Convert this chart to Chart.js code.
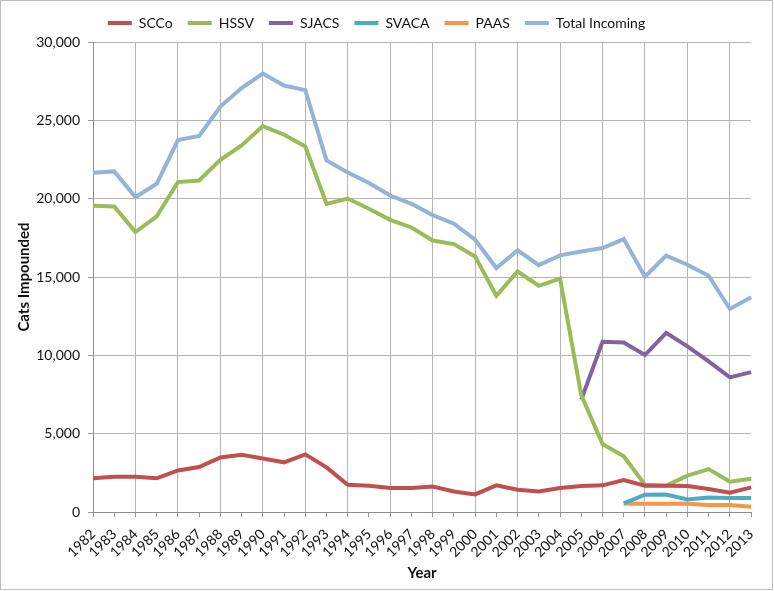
<!DOCTYPE html>
<html lang="en">
<head>
    <meta charset="UTF-8">
    <title>Cats Impounded</title>
    <style>
        body {
            margin: 0;
            background-color: white;
        }
        .frame {
            position: absolute;
            left: 0;
            top: 0;
            width: 771px;
            height: 588px;
            border: 1px solid #bdbdbd;
        }
    </style>
</head>
<body>

<div class="frame">
    <canvas id="myChart" width="771" height="588"></canvas>
</div>

<script src="https://cdn.jsdelivr.net/npm/chart.js"></script>

<script>
    const years = ['1982','1983','1984','1985','1986','1987','1988','1989','1990','1991','1992','1993','1994','1995','1996',
        '1997','1998','1999','2000','2001','2002','2003','2004','2005','2006','2007','2008','2009','2010','2011','2012','2013'];

    const scco = [2150, 2250, 2250, 2150, 2650, 2870, 3480, 3660, 3420, 3170, 3680, 2850, 1740, 1680, 1530,
        1530, 1630, 1310, 1120, 1700, 1420, 1310, 1530, 1660, 1700, 2040, 1680, 1680, 1660, 1470, 1230, 1570];
    const hssv = [19550, 19500, 17870, 18870, 21060, 21160, 22480, 23400, 24630, 24080, 23330, 19670, 20010, 19360, 18650,
        18160, 17330, 17100, 16310, 13800, 15350, 14440, 14890, 7450, 4340, 3550, 1740, 1680, 2320, 2740, 1930, 2120];
    const sjacs = [null, null, null, null, null, null, null, null, null, null, null, null, null, null, null,
        null, null, null, null, null, null, null, null, 7170, 10870, 10820, 10020, 11440, 10570, 9610, 8590, 8930];
    const svaca = [null, null, null, null, null, null, null, null, null, null, null, null, null, null, null,
        null, null, null, null, null, null, null, null, null, null, 550, 1100, 1120, 800, 930, 900, 890];
    const paas = [null, null, null, null, null, null, null, null, null, null, null, null, null, null, null,
        null, null, null, null, null, null, null, null, null, null, 550, 530, 530, 530, 450, 450, 340];
    const totalIncoming = [21650, 21740, 20100, 20950, 23740, 24010, 25880, 27060, 27990, 27220, 26930, 22440, 21670, 21000, 20200,
        19670, 18950, 18400, 17380, 15570, 16700, 15760, 16380, 16630, 16850, 17420, 15020, 16360, 15780, 15080, 12960, 13700];

    const yTicks = [0, 5000, 10000, 15000, 20000, 25000, 30000];

    const gridGray = '#b4b4b4';
    Chart.defaults.font.family = 'Lato, "Open Sans", sans-serif';
    Chart.defaults.color = '#222';

    function makeSet(label, data, color) {
        return { label: label, data: data, borderColor: color, backgroundColor: color, borderWidth: 4,
                 pointRadius: 0, tension: 0, spanGaps: false };
    }

    // fixed legend height so the plot top lands where the picture has it
    const legendFit = {
        id: 'legendFit',
        beforeInit(chart) {
            const fit = chart.legend.fit;
            chart.legend.fit = function () {
                fit.bind(chart.legend)();
                this.height = 41;
            };
        }
    };

    new Chart(document.getElementById('myChart'), {
        type: 'line',
        data: {
            labels: years,
            datasets: [
                makeSet('SCCo', scco, '#c0504d'),
                makeSet('HSSV', hssv, '#9bbb59'),
                makeSet('SJACS', sjacs, '#8064a2'),
                makeSet('SVACA', svaca, '#4bacc6'),
                makeSet('PAAS', paas, '#f79646'),
                makeSet('Total Incoming', totalIncoming, '#95b3d7')
            ]
        },
        plugins: [legendFit],
        options: {
            responsive: false,
            animation: false,
            layout: { padding: { left: 0, right: 20, top: 0, bottom: 0 } },
            plugins: {
                legend: {
                    position: 'top',
                    labels: { usePointStyle: true, pointStyle: 'line', pointStyleWidth: 24, padding: 15,
                              font: { size: 14 }, color: '#111' }
                },
                tooltip: { enabled: false }
            },
            scales: {
                x: {
                    offset: false,
                    grid: {
                        offset: false,
                        color: ctx => (ctx.index > 0 && ctx.index % 2 === 0) ? gridGray : 'rgba(0,0,0,0)',
                        tickColor: '#9a9a9a',
                        tickLength: 5
                    },
                    border: { color: '#8c8c8c' },
                    ticks: { autoSkip: false, minRotation: 45, maxRotation: 45, padding: 9, font: { size: 14 }, color: '#111' },
                    title: { display: true, text: 'Year', font: { size: 15, weight: 'bold' }, color: '#111', padding: { top: 10, bottom: 7 } },
                    afterFit(scale) { scale.height = 77; }
                },
                y: {
                    min: 0,
                    max: 30000,
                    afterBuildTicks(scale) { scale.ticks = yTicks.map(v => ({ value: v })); },
                    grid: { color: gridGray, tickColor: '#9a9a9a', tickLength: 5 },
                    border: { color: '#8c8c8c' },
                    ticks: { padding: 8, font: { size: 14 }, color: '#111',
                             callback: value => value.toLocaleString('en-US') },
                    title: { display: true, text: 'Cats Impounded', font: { size: 15, weight: 'bold' }, color: '#111', padding: { top: 14, bottom: 4 } },
                    afterFit(scale) { scale.width = 92; }
                }
            }
        }
    });
</script>
</body>
</html>
